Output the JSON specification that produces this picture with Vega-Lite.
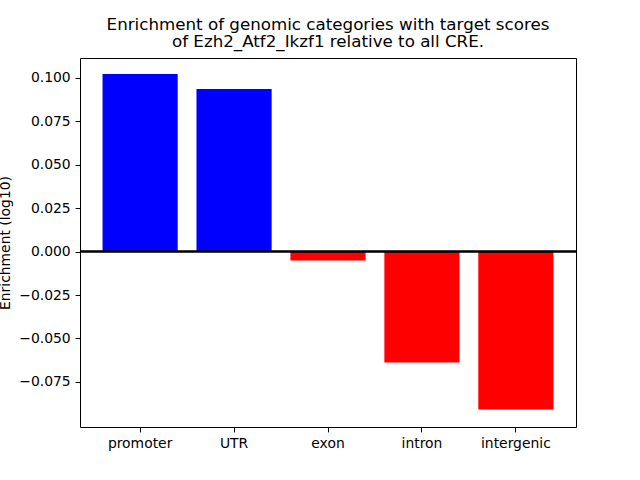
{
  "$schema": "https://vega.github.io/schema/vega-lite/v6.json",
  "autosize": "none",
  "width": 496,
  "height": 369,
  "padding": {"left": 80, "top": 58, "right": 64, "bottom": 53},
  "background": "white",
  "config": {
    "font": "DejaVu Sans",
    "view": {"stroke": "black", "strokeWidth": 1},
    "axis": {
      "domainColor": "black",
      "tickColor": "black",
      "labelColor": "black",
      "titleColor": "black",
      "labelFontSize": 13.9,
      "titleFontSize": 13.9,
      "titleFontWeight": "normal",
      "labelFont": "DejaVu Sans",
      "titleFont": "DejaVu Sans",
      "tickSize": 4.9,
      "labelPadding": 4.9,
      "grid": false
    }
  },
  "title": {
    "text": ["Enrichment of genomic categories with target scores", "of Ezh2_Atf2_Ikzf1 relative to all CRE."],
    "font": "DejaVu Sans",
    "fontSize": 16.7,
    "fontWeight": "normal",
    "color": "black",
    "anchor": "middle",
    "frame": "group",
    "offset": 7,
    "lineHeight": 17
  },
  "data": {
    "values": [
      {"category": "promoter", "value": 0.1021},
      {"category": "UTR", "value": 0.0935},
      {"category": "exon", "value": -0.0052},
      {"category": "intron", "value": -0.0638},
      {"category": "intergenic", "value": -0.0908}
    ]
  },
  "layer": [
    {
      "mark": {"type": "bar"},
      "encoding": {
        "x": {
          "field": "category",
          "type": "nominal",
          "sort": null,
          "scale": {"paddingInner": 0.2, "paddingOuter": 0.24},
          "axis": {"title": null, "labelAngle": 0, "domain": false}
        },
        "y": {
          "field": "value",
          "type": "quantitative",
          "scale": {"domain": [-0.1009, 0.1113], "nice": false, "zero": false},
          "axis": {
            "title": "Enrichment (log10)",
            "values": [-0.075, -0.05, -0.025, 0, 0.025, 0.05, 0.075, 0.1],
            "format": ".3f",
            "domain": false,
            "titlePadding": 6
          }
        },
        "color": {
          "condition": {"test": "datum.value > 0", "value": "#0000ff"},
          "value": "#ff0000"
        }
      }
    },
    {
      "mark": {"type": "rule", "color": "black", "strokeWidth": 1.5},
      "encoding": {
        "y": {"datum": 0, "type": "quantitative"}
      }
    }
  ]
}
